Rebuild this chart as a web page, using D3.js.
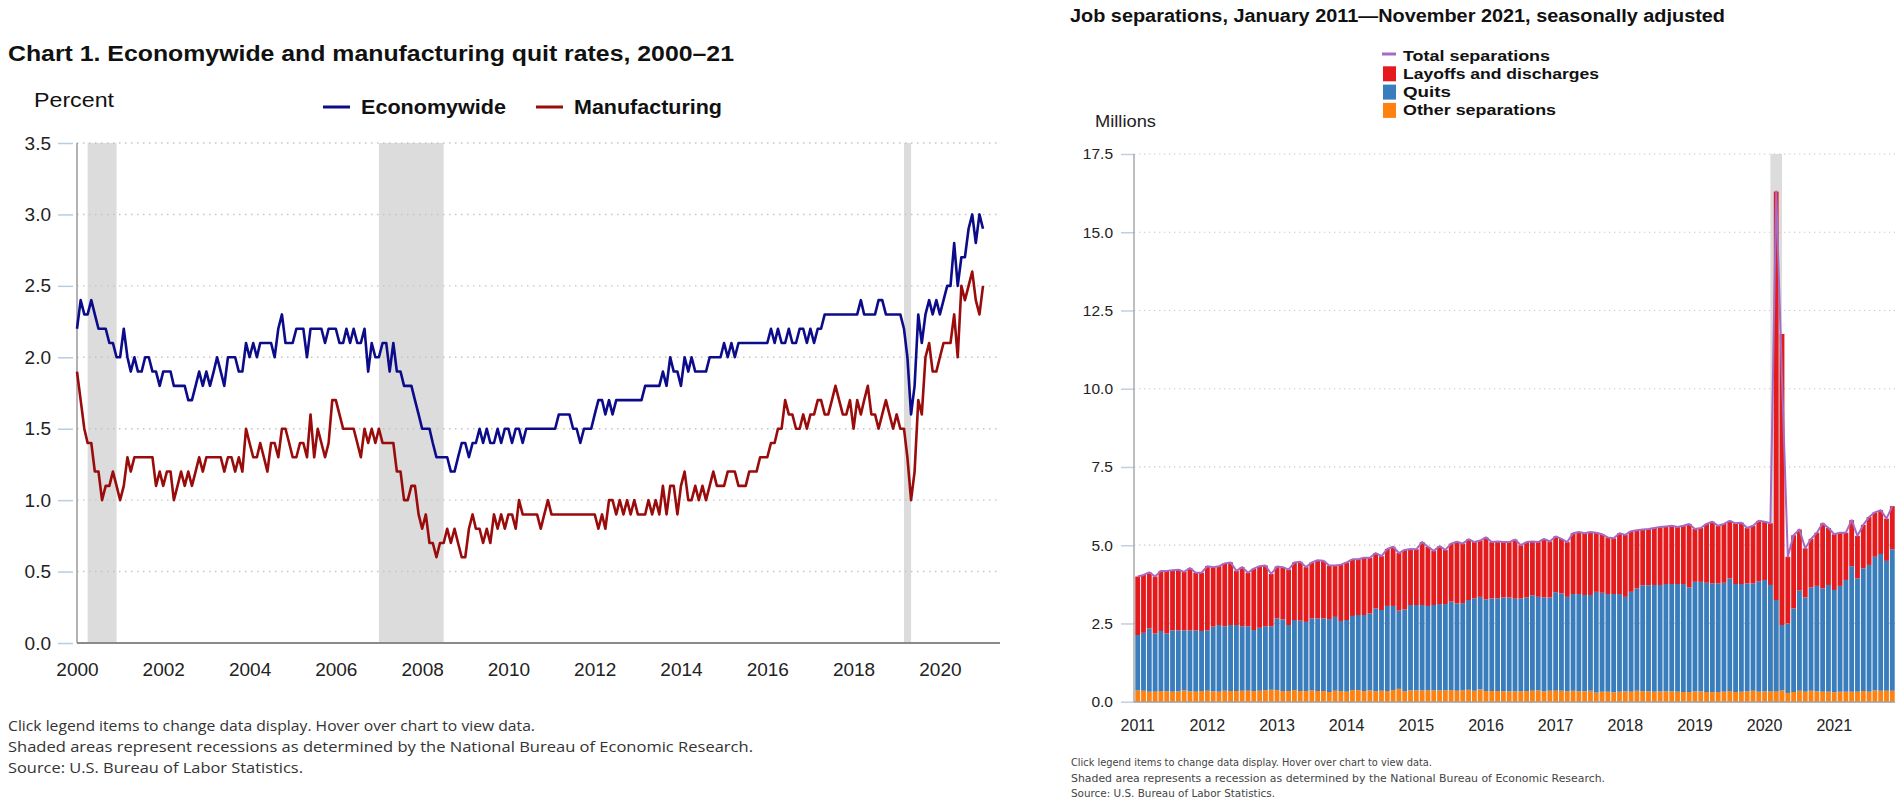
<!DOCTYPE html>
<html><head><meta charset="utf-8">
<script src="https://cdn.jsdelivr.net/npm/d3@7"></script>
<style>body{margin:0;background:#fff;}svg{display:block;}</style>
</head><body>
<svg id="c" width="1902" height="805"></svg>
<script>
// ---------- Chart 1 data: monthly quit rates (percent), Dec 2000 onward ----------
const quitStartMonth = "2000-12";
const econ = [
2.2,2.4,2.3,2.3,2.4,2.3,2.2,2.2,2.2,2.1,
2.1,2.0,2.0,2.2,2.0,1.9,2.0,1.9,1.9,2.0,
2.0,1.9,1.9,1.8,1.9,1.9,1.9,1.8,1.8,1.8,
1.8,1.7,1.7,1.8,1.9,1.8,1.9,1.8,1.9,2.0,
1.9,1.8,2.0,2.0,2.0,1.9,1.9,2.1,2.0,2.1,
2.0,2.1,2.1,2.1,2.1,2.0,2.2,2.3,2.1,2.1,
2.1,2.2,2.2,2.2,2.0,2.2,2.2,2.2,2.2,2.1,
2.2,2.2,2.2,2.1,2.1,2.2,2.1,2.2,2.1,2.1,
2.2,1.9,2.1,2.0,2.0,2.1,2.1,1.9,2.1,1.9,
1.9,1.8,1.8,1.8,1.7,1.6,1.5,1.5,1.5,1.4,
1.3,1.3,1.3,1.3,1.2,1.2,1.3,1.4,1.4,1.3,
1.4,1.4,1.5,1.4,1.5,1.4,1.4,1.5,1.4,1.5,
1.5,1.4,1.5,1.5,1.4,1.5,1.5,1.5,1.5,1.5,
1.5,1.5,1.5,1.5,1.6,1.6,1.6,1.6,1.5,1.5,
1.4,1.5,1.5,1.5,1.6,1.7,1.7,1.6,1.7,1.6,
1.7,1.7,1.7,1.7,1.7,1.7,1.7,1.7,1.8,1.8,
1.8,1.8,1.8,1.9,1.8,2.0,1.9,1.9,1.8,2.0,
1.9,2.0,1.9,1.9,1.9,1.9,2.0,2.0,2.0,2.0,
2.1,2.0,2.1,2.0,2.1,2.1,2.1,2.1,2.1,2.1,
2.1,2.1,2.1,2.2,2.1,2.2,2.1,2.1,2.2,2.1,
2.1,2.2,2.2,2.1,2.2,2.1,2.2,2.2,2.3,2.3,
2.3,2.3,2.3,2.3,2.3,2.3,2.3,2.3,2.4,2.3,
2.3,2.3,2.3,2.4,2.4,2.3,2.3,2.3,2.3,2.3,
2.2,2.0,1.6,1.8,2.3,2.1,2.3,2.4,2.3,2.4,
2.3,2.4,2.5,2.5,2.8,2.5,2.7,2.7,2.9,3.0,
2.8,3.0,2.9];
const mfg = [
1.9,1.7,1.5,1.4,1.4,1.2,1.2,1.0,1.1,1.1,
1.2,1.1,1.0,1.1,1.3,1.2,1.3,1.3,1.3,1.3,
1.3,1.3,1.1,1.2,1.1,1.2,1.2,1.0,1.1,1.2,
1.1,1.2,1.1,1.2,1.3,1.2,1.3,1.3,1.3,1.3,
1.3,1.2,1.3,1.3,1.2,1.3,1.2,1.5,1.4,1.3,
1.3,1.4,1.3,1.2,1.4,1.4,1.3,1.5,1.5,1.4,
1.3,1.3,1.4,1.4,1.3,1.6,1.3,1.5,1.4,1.3,
1.4,1.7,1.7,1.6,1.5,1.5,1.5,1.5,1.4,1.3,
1.5,1.4,1.5,1.4,1.5,1.4,1.4,1.4,1.4,1.2,
1.2,1.0,1.0,1.1,1.1,0.9,0.8,0.9,0.7,0.7,
0.6,0.7,0.7,0.8,0.7,0.8,0.7,0.6,0.6,0.8,
0.9,0.8,0.8,0.7,0.8,0.7,0.9,0.8,0.9,0.8,
0.9,0.9,0.8,1.0,0.9,0.9,0.9,0.9,0.9,0.8,
0.9,1.0,0.9,0.9,0.9,0.9,0.9,0.9,0.9,0.9,
0.9,0.9,0.9,0.9,0.9,0.8,0.9,0.8,1.0,1.0,
0.9,1.0,0.9,1.0,0.9,1.0,0.9,0.9,0.9,1.0,
0.9,1.0,0.9,1.1,0.9,1.1,1.1,0.9,1.1,1.2,
1.0,1.0,1.1,1.0,1.1,1.0,1.1,1.2,1.1,1.1,
1.1,1.2,1.2,1.2,1.1,1.1,1.1,1.2,1.2,1.2,
1.3,1.3,1.3,1.4,1.4,1.5,1.5,1.7,1.6,1.6,
1.5,1.5,1.6,1.5,1.6,1.6,1.7,1.7,1.6,1.6,
1.7,1.8,1.7,1.6,1.6,1.7,1.5,1.7,1.6,1.7,
1.8,1.6,1.6,1.5,1.6,1.7,1.6,1.5,1.6,1.5,
1.5,1.3,1.0,1.2,1.7,1.6,2.0,2.1,1.9,1.9,
2.0,2.1,2.1,2.1,2.3,2.0,2.5,2.4,2.5,2.6,
2.4,2.3,2.5];
const leftYTicks = [0,0.5,1.0,1.5,2.0,2.5,3.0,3.5];
const leftXTickYears = [2000,2002,2004,2006,2008,2010,2012,2014,2016,2018,2020];
const recessionsL = [["2001-03","2001-11"],["2007-12","2009-06"],["2020-02","2020-04"]];

// ---------- Chart 2 data: job separations (millions), Jan 2011 - Nov 2021 ----------
const sepStartMonth = "2011-01";
const totalSep = [
4.0,4.05,4.13,4.0,4.18,4.18,4.2,4.22,4.15,4.27,
4.12,4.12,4.33,4.3,4.33,4.42,4.45,4.18,4.3,4.12,
4.25,4.33,4.35,4.08,4.32,4.3,4.22,4.45,4.47,4.3,
4.45,4.52,4.5,4.35,4.35,4.38,4.45,4.55,4.55,4.6,
4.6,4.75,4.65,4.88,4.95,4.75,4.85,4.88,4.87,5.1,
4.95,4.82,4.97,4.85,5.05,5.11,5.05,5.19,5.1,5.15,
5.25,5.1,5.12,5.1,5.1,5.18,5.0,5.1,5.12,5.1,
5.2,5.12,5.28,5.2,5.1,5.38,5.42,5.38,5.42,5.4,
5.35,5.25,5.22,5.38,5.33,5.45,5.48,5.5,5.52,5.55,
5.58,5.6,5.62,5.58,5.62,5.68,5.52,5.55,5.68,5.75,
5.62,5.68,5.78,5.7,5.72,5.55,5.62,5.78,5.75,5.7,
16.3,10.3,4.63,5.32,5.5,4.9,5.2,5.4,5.7,5.55,
5.35,5.4,5.4,5.8,5.3,5.65,5.9,6.05,6.12,5.85,6.25];
const layoffs = [
1.87,1.85,1.79,1.82,1.92,2.00,1.92,1.94,1.87,1.99,
1.84,1.86,2.05,1.90,1.88,2.01,2.00,1.73,1.89,1.71,
1.96,1.97,1.94,1.67,1.66,1.67,1.77,1.84,1.88,1.75,
1.79,1.86,1.84,1.71,1.64,1.80,1.84,1.81,1.78,1.83,
1.78,1.77,1.72,1.82,1.89,1.84,1.90,1.79,1.78,2.01,
1.89,1.73,1.85,1.73,1.85,1.97,1.90,1.94,1.80,1.80,
1.98,1.80,1.82,1.77,1.77,1.89,1.70,1.77,1.72,1.75,
1.87,1.79,1.78,1.74,1.75,1.94,1.98,1.97,2.01,1.89,
1.87,1.81,1.78,1.94,1.98,1.94,1.86,1.78,1.80,1.82,
1.85,1.84,1.86,1.82,1.86,2.03,1.69,1.72,1.88,1.97,
1.84,1.88,1.84,1.94,1.96,1.77,1.84,1.93,1.86,1.97,
13.05,9.30,2.13,2.34,1.95,1.57,1.55,1.70,2.08,1.82,
1.78,1.70,1.51,1.47,1.36,1.39,1.53,1.42,1.40,1.35,1.38];
const quits = [
1.77,1.85,2.02,1.86,1.92,1.85,1.96,1.95,1.92,1.95,
1.96,1.92,1.93,2.07,2.13,2.06,2.11,2.11,2.06,2.06,
1.95,2.01,2.04,2.03,2.29,2.29,2.11,2.24,2.25,2.21,
2.30,2.32,2.32,2.33,2.36,2.24,2.29,2.37,2.40,2.43,
2.46,2.65,2.58,2.72,2.69,2.50,2.61,2.73,2.73,2.73,
2.70,2.73,2.76,2.76,2.83,2.79,2.79,2.87,2.95,2.96,
2.93,2.96,2.96,3.00,3.00,2.96,2.97,2.99,3.05,2.99,
3.00,2.98,3.15,3.11,3.02,3.09,3.11,3.08,3.06,3.22,
3.16,3.12,3.14,3.12,3.02,3.19,3.27,3.39,3.39,3.41,
3.40,3.43,3.43,3.44,3.45,3.34,3.50,3.50,3.49,3.48,
3.47,3.48,3.60,3.45,3.44,3.45,3.43,3.53,3.56,3.40,
2.92,2.09,2.22,2.67,3.20,3.01,3.30,3.37,3.30,3.41,
3.27,3.38,3.57,4.01,3.62,3.92,4.05,4.27,4.37,4.15,4.52];
const otherSep = [
0.36,0.35,0.32,0.32,0.34,0.33,0.32,0.33,0.36,0.33,
0.32,0.34,0.35,0.33,0.32,0.35,0.34,0.34,0.35,0.35,
0.34,0.35,0.37,0.38,0.37,0.34,0.34,0.37,0.34,0.34,
0.36,0.34,0.34,0.31,0.35,0.34,0.32,0.37,0.37,0.34,
0.36,0.33,0.35,0.34,0.37,0.41,0.34,0.36,0.36,0.36,
0.36,0.36,0.36,0.36,0.37,0.35,0.36,0.38,0.35,0.39,
0.34,0.34,0.34,0.33,0.33,0.33,0.33,0.34,0.35,0.36,
0.33,0.35,0.35,0.35,0.33,0.35,0.33,0.33,0.35,0.29,
0.32,0.32,0.30,0.32,0.33,0.32,0.35,0.33,0.33,0.32,
0.33,0.33,0.33,0.32,0.31,0.31,0.33,0.33,0.31,0.30,
0.31,0.32,0.34,0.31,0.32,0.33,0.35,0.32,0.33,0.33,
0.33,0.36,0.28,0.31,0.35,0.32,0.35,0.33,0.32,0.32,
0.30,0.32,0.32,0.32,0.32,0.34,0.32,0.36,0.35,0.35,0.35];
const rightYTicks = [0,2.5,5.0,7.5,10.0,12.5,15.0,17.5];
const rightXTickYears = [2011,2012,2013,2014,2015,2016,2017,2018,2019,2020,2021];
const recessionR = ["2020-02","2020-04"];
const sepSeries = ["Total separations","Layoffs and discharges","Quits","Other separations"];

// ---------- helpers ----------
const svg = d3.select("#c");
const parseM = d3.timeParse("%Y-%m");
const fmtM = d3.timeFormat("%Y-%m");
const SANS = "'Liberation Sans', Arial, Helvetica, sans-serif";
function fit(sel, w){ sel.attr("textLength", w).attr("lengthAdjust","spacingAndGlyphs"); return sel; }

// ================= LEFT CHART =================
const L = svg.append("g");
const lStart = parseM(quitStartMonth);
const lDates = econ.map((d,i)=>d3.timeMonth.offset(lStart,i));
const xL = d3.scaleTime().domain([lDates[0], lDates[lDates.length-1]]).range([77, 983]);
const yL = d3.scaleLinear().domain([0,3.5]).range([643,143]);
const lRight = 1000;

fit(L.append("text").attr("x",8).attr("y",61).attr("font-family",SANS).attr("font-weight","bold")
  .attr("font-size",22).attr("fill","#111").text("Chart 1. Economywide and manufacturing quit rates, 2000–21"),726);
fit(L.append("text").attr("x",34).attr("y",107).attr("font-family",SANS).attr("font-size",21)
  .attr("fill","#111").text("Percent"),80);

// recession shading
L.selectAll("rect.rec").data(recessionsL).join("rect").attr("class","rec")
  .attr("x",d=>xL(parseM(d[0]))).attr("width",d=>xL(parseM(d[1]))-xL(parseM(d[0])))
  .attr("y",yL(3.5)).attr("height",yL(0)-yL(3.5)).attr("fill","#dcdcdc");

// gridlines
L.selectAll("line.grid").data(leftYTicks.filter(d=>d>0)).join("line").attr("class","grid")
  .attr("x1",77).attr("x2",lRight).attr("y1",d=>yL(d)).attr("y2",d=>yL(d))
  .attr("stroke","#c4c4c4").attr("stroke-width",1.4).attr("stroke-dasharray","1.5,4.5");

// y axis
const yAxL = L.append("g").attr("transform","translate(73,0)")
  .call(d3.axisLeft(yL).tickValues(leftYTicks).tickFormat(d3.format(".1f")).tickSize(15).tickPadding(7));
yAxL.select(".domain").remove();
yAxL.selectAll(".tick line").attr("stroke","#b9cde0").attr("stroke-width",1.5);
yAxL.selectAll(".tick text").attr("font-family",SANS).attr("font-size",19).attr("fill","#222");
L.append("line").attr("x1",77).attr("x2",77).attr("y1",143).attr("y2",643).attr("stroke","#9a9a9a").attr("stroke-width",1.5);
L.append("line").attr("x1",77).attr("x2",lRight).attr("y1",643).attr("y2",643).attr("stroke","#8a8a8a").attr("stroke-width",2);

// x axis
const lTickDates = leftXTickYears.map(y=>new Date(y,11,1));
const xAxL = L.append("g").attr("transform","translate(0,655)")
  .call(d3.axisBottom(xL).tickValues(lTickDates).tickFormat(d=>d.getFullYear()).tickSize(0).tickPadding(8));
xAxL.select(".domain").remove();
xAxL.selectAll(".tick text").attr("font-family",SANS).attr("font-size",19).attr("fill","#222");

// lines
const lineL = d3.line().x((d,i)=>xL(lDates[i])).y(d=>yL(d)).curve(d3.curveLinear);
L.append("path").datum(econ).attr("d",lineL).attr("fill","none").attr("stroke","#0c0c8a").attr("stroke-width",2.6).attr("stroke-linejoin","round");
L.append("path").datum(mfg).attr("d",lineL).attr("fill","none").attr("stroke","#9a0b0b").attr("stroke-width",2.6).attr("stroke-linejoin","round");

// legend
const legL = [{name:"Economywide",color:"#0c0c8a",x:323,w:145},{name:"Manufacturing",color:"#9a0b0b",x:536,w:148}];
legL.forEach(d=>{
  L.append("line").attr("x1",d.x).attr("x2",d.x+27).attr("y1",107).attr("y2",107).attr("stroke",d.color).attr("stroke-width",3);
  fit(L.append("text").attr("x",d.x+38).attr("y",114).attr("font-family",SANS).attr("font-weight","bold")
    .attr("font-size",20).attr("fill","#111").text(d.name), d.w);
});

// notes
const notesL = [["Click legend items to change data display. Hover over chart to view data.",527],
 ["Shaded areas represent recessions as determined by the National Bureau of Economic Research.",745],
 ["Source: U.S. Bureau of Labor Statistics.",295]];
notesL.forEach((n,i)=>fit(L.append("text").attr("x",8).attr("y",731+i*21).attr("font-family","'Open Sans', sans-serif")
  .attr("font-size",15).attr("fill","#333").text(n[0]), n[1]));

// ================= RIGHT CHART =================
const R = svg.append("g");
const rStart = parseM(sepStartMonth);
const rKeys = totalSep.map((d,i)=>fmtM(d3.timeMonth.offset(rStart,i)));
const rows = rKeys.map((k,i)=>({key:k, other:otherSep[i], quits:quits[i], layoffs:layoffs[i], total:totalSep[i]}));
const xR = d3.scaleBand().domain(rKeys).range([1135,1895]).paddingInner(0.17).paddingOuter(0.05);
const yR = d3.scaleLinear().domain([0,17.5]).range([701.7,154]);
const rRight = 1895;
const colors = {layoffs:"#e41a1c", quits:"#3a7dbd", other:"#ff8210", total:"#a46cc2"};

fit(R.append("text").attr("x",1070).attr("y",22).attr("font-family",SANS).attr("font-weight","bold")
  .attr("font-size",18).attr("fill","#111").text("Job separations, January 2011—November 2021, seasonally adjusted"),655);
fit(R.append("text").attr("x",1095).attr("y",127).attr("font-family",SANS).attr("font-size",16)
  .attr("fill","#222").text("Millions"),61);

// legend
const legR = [
 {name:sepSeries[0], type:"line", color:colors.total, w:147},
 {name:sepSeries[1], type:"rect", color:colors.layoffs, w:196},
 {name:sepSeries[2], type:"rect", color:colors.quits, w:48},
 {name:sepSeries[3], type:"rect", color:colors.other, w:153}];
legR.forEach((d,i)=>{
  const cy = 55 + i*18.3;
  if(d.type==="line") R.append("line").attr("x1",1382).attr("x2",1396).attr("y1",cy-1).attr("y2",cy-1).attr("stroke",d.color).attr("stroke-width",3);
  else R.append("rect").attr("x",1383).attr("y",cy-7).attr("width",13).attr("height",15).attr("fill",d.color);
  fit(R.append("text").attr("x",1403).attr("y",cy+5.5).attr("font-family",SANS).attr("font-weight","bold")
    .attr("font-size",15.5).attr("fill","#111").text(d.name), d.w);
});

// recession shading
R.append("rect").attr("x",xR(recessionR[0])+xR.bandwidth()/2)
  .attr("width",xR(recessionR[1])-xR(recessionR[0])).attr("y",yR(17.5)).attr("height",yR(0)-yR(17.5)).attr("fill","#dcdcdc");

// gridlines
R.selectAll("line.grid").data(rightYTicks.filter(d=>d>0)).join("line").attr("class","grid")
  .attr("x1",1134).attr("x2",rRight).attr("y1",d=>yR(d)).attr("y2",d=>yR(d))
  .attr("stroke","#c8c8c8").attr("stroke-width",1.2).attr("stroke-dasharray","1.3,3.7");

// y axis
const yAxR = R.append("g").attr("transform","translate(1134,0)")
  .call(d3.axisLeft(yR).tickValues(rightYTicks).tickFormat(d3.format(".1f")).tickSize(13).tickPadding(8));
yAxR.select(".domain").remove();
yAxR.selectAll(".tick line").attr("stroke","#c3cfdf").attr("stroke-width",1.5);
yAxR.selectAll(".tick text").attr("font-family",SANS).attr("font-size",15.5).attr("fill","#222");

// stacked bars
const stack = d3.stack().keys(["other","quits","layoffs"])(rows);
R.append("g").selectAll("g").data(stack).join("g").attr("fill",s=>colors[s.key])
  .selectAll("rect").data(s=>s).join("rect")
  .attr("x",d=>xR(d.data.key)).attr("width",xR.bandwidth())
  .attr("y",d=>yR(d[1])).attr("height",d=>yR(d[0])-yR(d[1]));

R.append("line").attr("x1",1134).attr("x2",1134).attr("y1",154).attr("y2",702).attr("stroke","#a8a8a8").attr("stroke-width",1.5);
R.append("line").attr("x1",1134).attr("x2",rRight).attr("y1",702).attr("y2",702).attr("stroke","#9a9a9a").attr("stroke-width",1.5);

// total line
R.append("path").datum(rows).attr("fill","none").attr("stroke",colors.total).attr("stroke-width",2)
  .attr("stroke-linejoin","round")
  .attr("d",d3.line().x(d=>xR(d.key)+xR.bandwidth()/2).y(d=>yR(d.total)));

// x axis
const xAxR = R.append("g").attr("transform","translate(0,714)")
  .call(d3.axisBottom(xR).tickValues(rightXTickYears.map(y=>y+"-01")).tickFormat(k=>k.slice(0,4)).tickSize(0).tickPadding(6));
xAxR.select(".domain").remove();
xAxR.selectAll(".tick text").attr("font-family",SANS).attr("font-size",16).attr("fill","#222");

// notes
const notesR = [["Click legend items to change data display. Hover over chart to view data.",361],
 ["Shaded area represents a recession as determined by the National Bureau of Economic Research.",534],
 ["Source: U.S. Bureau of Labor Statistics.",204]];
notesR.forEach((n,i)=>fit(R.append("text").attr("x",1071).attr("y",766+i*15.5).attr("font-family","'DejaVu Sans', sans-serif")
  .attr("font-size",11).attr("fill","#444").text(n[0]), n[1]));
</script>
</body></html>
